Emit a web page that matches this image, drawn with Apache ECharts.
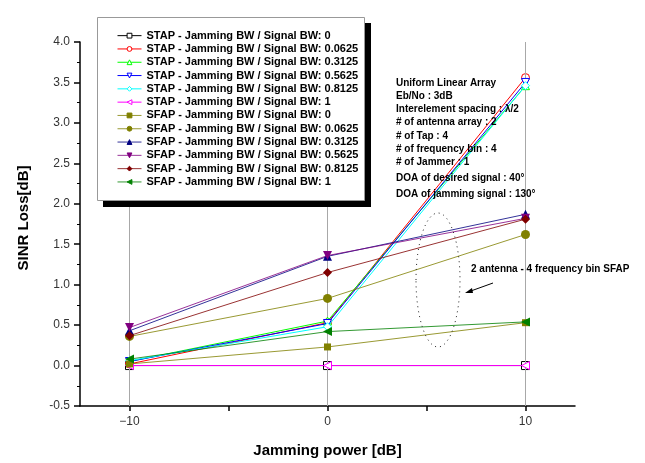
<!DOCTYPE html>
<html><head><meta charset="utf-8">
<script src="https://cdn.jsdelivr.net/npm/echarts@6/dist/echarts.min.js"></script>
<style>html,body{margin:0;padding:0;background:#fff}#c{width:645px;height:463px}</style>
</head><body><div id="c"></div>
<script>
const xValues = [-10, 0, 10];
const xTickLabels = [-10, 0, 10];
const yTicks = [-0.5, 0, 0.5, 1.0, 1.5, 2.0, 2.5, 3.0, 3.5, 4.0];

const seriesNames = [
  'STAP - Jamming BW / Signal BW: 0',
  'STAP - Jamming BW / Signal BW: 0.0625',
  'STAP - Jamming BW / Signal BW: 0.3125',
  'STAP - Jamming BW / Signal BW: 0.5625',
  'STAP - Jamming BW / Signal BW: 0.8125',
  'STAP - Jamming BW / Signal BW: 1',
  'SFAP - Jamming BW / Signal BW: 0',
  'SFAP - Jamming BW / Signal BW: 0.0625',
  'SFAP - Jamming BW / Signal BW: 0.3125',
  'SFAP - Jamming BW / Signal BW: 0.5625',
  'SFAP - Jamming BW / Signal BW: 0.8125',
  'SFAP - Jamming BW / Signal BW: 1'
];
const stap_0     = [0.00, 0.00, 0.00];
const stap_00625 = [0.02, 0.53, 3.56];
const stap_03125 = [0.05, 0.55, 3.46];
const stap_05625 = [0.05, 0.52, 3.50];
const stap_08125 = [0.06, 0.48, 3.46];
const stap_1     = [0.00, 0.00, 0.00];
const sfap_0     = [0.02, 0.23, 0.53];
const sfap_00625 = [0.36, 0.83, 1.62];
const sfap_03125 = [0.43, 1.35, 1.87];
const sfap_05625 = [0.47, 1.36, 1.82];
const sfap_08125 = [0.37, 1.15, 1.81];
const sfap_1     = [0.08, 0.42, 0.54];

const annotationLines = [
  'Uniform Linear Array',
  'Eb/No : 3dB',
  'Interelement spacing : λ/2',
  '# of antenna array : 2',
  '# of Tap : 4',
  '# of frequency bin : 4',
  '# of Jammer : 1',
  'DOA of desired signal : 40°',
  'DOA of jamming signal : 130°'
];
const calloutText = '2 antenna - 4 frequency bin SFAP';

const FONT = '"Liberation Sans", Arial, sans-serif';
const values = [stap_0, stap_00625, stap_03125, stap_05625, stap_08125, stap_1,
                sfap_0, sfap_00625, sfap_03125, sfap_05625, sfap_08125, sfap_1];
const colors = ['#000000','#ff0000','#00ff00','#0000ff','#00ffff','#ff00ff',
                '#808000','#808000','#000080','#800080','#800000','#008000'];
const symbols = ['rect','circle','triangle','triangle','diamond','triangle',
                 'rect','circle','triangle','triangle','diamond','triangle'];
const rotates = [0,0,0,180,0,90, 0,0,0,180,0,90];

const series = [{
  type: 'line', name: 'grid', data: [], z: 1, silent: true,
  markLine: {
    silent: true, symbol: 'none', label: {show: false},
    lineStyle: {color: '#a8a8a8', type: 'solid', width: 1},
    data: xTickLabels.map(v => ({xAxis: v}))
  }
}];
values.forEach((vals, i) => {
  const hollow = i < 6;
  series.push({
    type: 'line', name: seriesNames[i],
    data: vals.map((v, k) => [xValues[k], v]),
    symbol: symbols[i], symbolRotate: rotates[i],
    symbolSize: hollow ? 8 : (symbols[i]==='rect' ? 7 : 9),
    showSymbol: true, animation: false, z: 3 + i,
    lineStyle: {color: colors[i], width: 1, opacity: hollow ? 1 : 0.8},
    itemStyle: hollow ? {color: '#ffffff', borderColor: colors[i], borderWidth: 1}
                      : {color: colors[i], borderColor: colors[i], borderWidth: 0}
  });
});

const graphics = [
  {type: 'rect', shape: {x: 103, y: 23, width: 268, height: 184}, style: {fill: '#000'}, z: 50},
  {type: 'rect', shape: {x: 97.5, y: 17.5, width: 267, height: 183}, style: {fill: '#fff', stroke: '#999', lineWidth: 1}, z: 51},
  {type: 'ellipse', shape: {cx: 438, cy: 280, rx: 22, ry: 67},
   style: {fill: 'none', stroke: '#222', lineWidth: 1, lineDash: [1, 4]}, z: 60},
  {type: 'line', shape: {x1: 493, y1: 283, x2: 468, y2: 292}, style: {stroke: '#000', lineWidth: 1}, z: 60},
  {type: 'polygon', shape: {points: [[465, 293], [472, 288], [473, 293]]}, style: {fill: '#000'}, z: 60},
  {type: 'text', left: 471, top: 264, z: 60,
   style: {text: calloutText, font: 'bold 10px ' + FONT, fill: '#000'}}
];
const annY = [78, 91, 104.5, 117.5, 131, 144.5, 157.5, 173, 189];
annotationLines.forEach((t, i) => {
  graphics.push({type: 'text', left: 396, top: annY[i], z: 60,
    style: {text: t, font: 'bold 10px ' + FONT, fill: '#000'}});
});

const chart = echarts.init(document.getElementById('c'), null, {renderer: 'canvas'});
chart.setOption({
  animation: false,
  backgroundColor: '#fff',
  grid: {left: 80, right: 70, top: 42, bottom: 57, containLabel: false},
  xAxis: {
    type: 'value', min: -12.5, max: 12.5,
    name: 'Jamming power [dB]', nameLocation: 'middle', nameGap: 37,
    nameTextStyle: {fontFamily: FONT, fontWeight: 'bold', fontSize: 15, color: '#000'},
    axisLine: {show: true, onZero: false, lineStyle: {color: '#000', width: 1.5}},
    axisTick: {show: true, customValues: [-10, -5, 0, 5, 10], length: 5, lineStyle: {color: '#000', width: 1.5}},
    axisLabel: {customValues: xTickLabels, fontFamily: FONT, fontSize: 12, color: '#333', margin: 10,
      formatter: v => String(v).replace('-', '−')},
    splitLine: {show: false}
  },
  yAxis: {
    type: 'value', min: -0.5, max: 4.0, interval: 0.5,
    name: 'SINR Loss[dB]', nameLocation: 'middle', nameGap: 49,
    nameTextStyle: {fontFamily: FONT, fontWeight: 'bold', fontSize: 15, color: '#000', padding: [0, 0, 0, 12]},
    axisLine: {show: true, onZero: false, lineStyle: {color: '#000', width: 1.5}},
    axisTick: {show: true, length: 6, lineStyle: {color: '#000', width: 1.5}},
    minorTick: {show: true, splitNumber: 2, length: 3, lineStyle: {color: '#000', width: 1}},
    axisLabel: {fontFamily: FONT, fontSize: 12, color: '#333', margin: 10,
      formatter: v => v.toFixed(1)},
    splitLine: {show: false}
  },
  legend: {
    orient: 'vertical', left: 112, top: 24, z: 100,
    data: seriesNames,
    itemWidth: 24, itemHeight: 6, itemGap: 0, padding: 5,
    selectedMode: false,
    lineStyle: {width: 1},
    itemStyle: {borderWidth: 1},
    textStyle: {fontFamily: FONT, fontWeight: 'bold', fontSize: 11, color: '#000', lineHeight: 13.3}
  },
  graphic: graphics,
  series: series
});
</script></body></html>
